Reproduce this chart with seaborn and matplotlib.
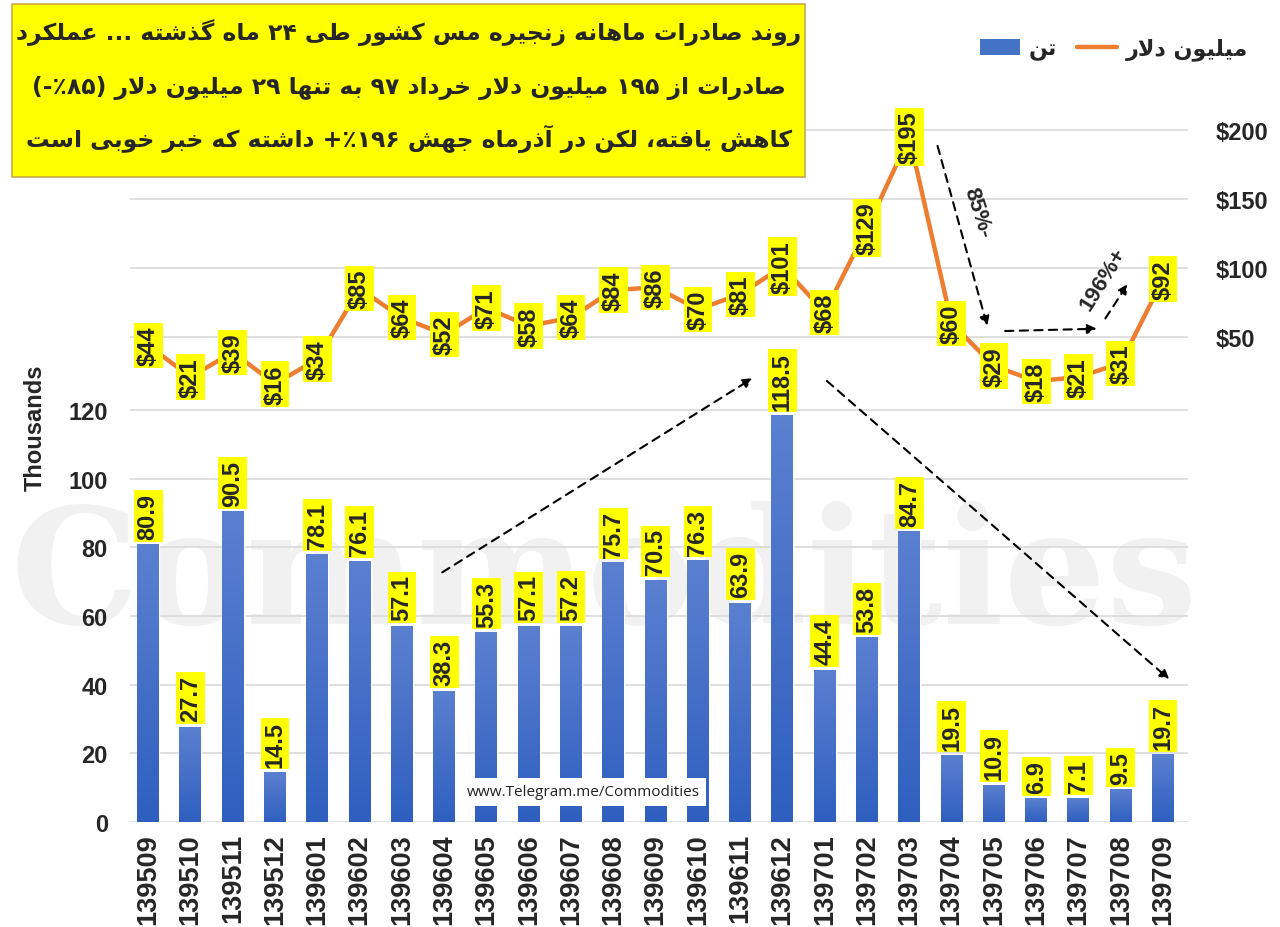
import re
import numpy as np
import matplotlib
matplotlib.use('Agg')
import matplotlib.pyplot as plt
import seaborn as sns
from matplotlib.colors import LinearSegmentedColormap
from matplotlib.patches import Rectangle
from matplotlib.lines import Line2D

# data
months = ['139509', '139510', '139511', '139512', '139601', '139602', '139603',
          '139604', '139605', '139606', '139607', '139608', '139609', '139610',
          '139611', '139612', '139701', '139702', '139703', '139704', '139705',
          '139706', '139707', '139708', '139709']
tons_k = [80.9, 27.7, 90.5, 14.5, 78.1, 76.1, 57.1, 38.3, 55.3, 57.1, 57.2, 75.7,
          70.5, 76.3, 63.9, 118.5, 44.4, 53.8, 84.7, 19.5, 10.9, 6.9, 7.1, 9.5, 19.7]
usd_m = [44, 21, 39, 16, 34, 85, 64, 52, 71, 58, 64, 84, 86, 70, 81, 101, 68, 129,
         195, 60, 29, 18, 21, 31, 92]
left_ticks = [0, 20, 40, 60, 80, 100, 120]
right_ticks = [50, 100, 150, 200]

title_lines = ['روند صادرات ماهانه زنجیره مس کشور طی ۲۴ ماه گذشته ... عملکرد',
               'صادرات از ۱۹۵ میلیون دلار خرداد ۹۷ به تنها ۲۹ میلیون دلار (۸۵٪-)',
               'کاهش یافته، لکن در آذرماه جهش ۱۹۶٪+ داشته که خبر خوبی است']
legend_labels = ['تن', 'میلیون دلار']

# --- minimal persian shaping (no reshaper available) ---
FORMS = {
    'ا': ('\uFE8D', '\uFE8E', None, None), 'آ': ('\uFE81', '\uFE82', None, None),
    'ب': ('\uFE8F', '\uFE90', '\uFE91', '\uFE92'), 'ت': ('\uFE95', '\uFE96', '\uFE97', '\uFE98'),
    'ج': ('\uFE9D', '\uFE9E', '\uFE9F', '\uFEA0'), 'خ': ('\uFEA5', '\uFEA6', '\uFEA7', '\uFEA8'),
    'د': ('\uFEA9', '\uFEAA', None, None), 'ذ': ('\uFEAB', '\uFEAC', None, None),
    'ر': ('\uFEAD', '\uFEAE', None, None), 'ز': ('\uFEAF', '\uFEB0', None, None),
    'س': ('\uFEB1', '\uFEB2', '\uFEB3', '\uFEB4'), 'ش': ('\uFEB5', '\uFEB6', '\uFEB7', '\uFEB8'),
    'ص': ('\uFEB9', '\uFEBA', '\uFEBB', '\uFEBC'), 'ط': ('\uFEC1', '\uFEC2', '\uFEC3', '\uFEC4'),
    'ع': ('\uFEC9', '\uFECA', '\uFECB', '\uFECC'), 'ف': ('\uFED1', '\uFED2', '\uFED3', '\uFED4'),
    'ل': ('\uFEDD', '\uFEDE', '\uFEDF', '\uFEE0'), 'م': ('\uFEE1', '\uFEE2', '\uFEE3', '\uFEE4'),
    'ن': ('\uFEE5', '\uFEE6', '\uFEE7', '\uFEE8'), 'ه': ('\uFEE9', '\uFEEA', '\uFEEB', '\uFEEC'),
    'و': ('\uFEED', '\uFEEE', None, None),
    'ک': ('\uFB8E', '\uFB8F', '\uFB90', '\uFB91'), 'گ': ('\uFB92', '\uFB93', '\uFB94', '\uFB95'),
    'ی': ('\uFBFC', '\uFBFD', '\uFBFE', '\uFBFF'),
}
LAMALEF = {'ا': ('\uFEFB', '\uFEFC'), 'آ': ('\uFEF5', '\uFEF6')}


def fa(text):
    text = text.replace('ي', 'ی').replace('ك', 'ک')
    ch = list(text)
    n = len(ch)
    dual = lambda c: c in FORMS and FORMS[c][2] is not None
    out = []
    i = 0
    while i < n:
        c = ch[i]
        if c not in FORMS:
            out.append(c)
            i += 1
            continue
        jp = i > 0 and dual(ch[i - 1])
        if c == 'ل' and i + 1 < n and ch[i + 1] in LAMALEF:
            out.append(LAMALEF[ch[i + 1]][1 if jp else 0])
            i += 2
            continue
        jn = dual(c) and i + 1 < n and ch[i + 1] in FORMS
        f = FORMS[c]
        out.append(f[3] if jp and jn else f[1] if jp else f[2] if jn else f[0])
        i += 1
    s = ''.join(out)[::-1]
    s = re.sub(r'[0-9۰-۹]+', lambda m: m.group(0)[::-1], s)
    return s.translate(str.maketrans('()', ')('))


sns.set_theme(style='white')
plt.rcParams['font.family'] = ['Liberation Sans', 'DejaVu Sans']
plt.rcParams['font.weight'] = 'bold'

W, H = 1280, 928
fig = plt.figure(figsize=(12.8, 9.28), dpi=100, facecolor='white')
ax = fig.add_axes([130 / W, 1 - 823 / H, 1058 / W, 723 / H])
ax.set_facecolor('none')
ax2 = ax.twinx()

# faint watermark
fig.text(0.472, 0.375, 'Commodities', fontsize=116, family='DejaVu Serif',
         color='#f1f1f1', ha='center', va='center', zorder=-1)

sns.barplot(x=months, y=tons_k, ax=ax, color='#4472c4', width=0.52,
            saturation=1, zorder=2)
sns.lineplot(x=np.arange(len(months)), y=usd_m, ax=ax2, color='#ed7d31',
             lw=3.2, zorder=3)

# gradient fill on bars
cmap = LinearSegmentedColormap.from_list('bar', ['#2f5fbf', '#5b80d0'])
grad = np.linspace(0, 1, 128).reshape(-1, 1)
for p in list(ax.patches):
    x0, w, h = p.get_x(), p.get_width(), p.get_height()
    im = ax.imshow(grad, extent=[x0, x0 + w, 0, h], origin='lower', cmap=cmap,
                   aspect='auto', zorder=2.1)
    im.set_clip_path(p)

ax.set_xlim(-0.43, 24.59)
ax2.set_xlim(-0.43, 24.59)
ax.set_ylim(0, 723 / 3.433)
ax2.set_ylim(-416 / 1.38, 307 / 1.38)

ax.set_yticks(left_ticks)
ax.set_yticklabels([str(t) for t in left_ticks])
ax2.set_yticks(right_ticks)
ax2.set_yticklabels([f'${t}' for t in right_ticks])
ax.grid(axis='y', color='#d9d9d9', lw=1.2)
ax2.grid(axis='y', color='#d9d9d9', lw=1.2)
ax.set_axisbelow(True)
for a in (ax, ax2):
    for s in a.spines.values():
        s.set_visible(False)
ax.tick_params(axis='y', length=0, pad=16, labelsize=17)
ax2.tick_params(axis='y', length=0, pad=20, labelsize=17)
ax.tick_params(axis='x', length=0, pad=8, labelsize=19.5, rotation=90)
ax.set_xlabel('')
ax.set_ylabel('')
ax2.set_ylabel('')

# value labels
for i, v in enumerate(tons_k):
    ax.annotate(f'{v}', (i, v), xytext=(0, 4), textcoords='offset points',
                rotation=90, ha='center', va='bottom', fontsize=17,
                fontweight='bold', zorder=5,
                bbox=dict(boxstyle='square,pad=0.12', fc='#ffff00', ec='none'))
for i, v in enumerate(usd_m):
    ax2.text(i, v, f'${v}', rotation=90, ha='center', va='center', fontsize=17,
             fontweight='bold', zorder=6,
             bbox=dict(boxstyle='square,pad=0.12', fc='#ffff00', ec='none'))

# dashed arrows and notes
arw = dict(arrowstyle='-|>', linestyle=(0, (4, 3)), color='black', lw=1.5,
           mutation_scale=14)
for start, end in [((6.9, 72.3), (14.35, 129.7)), ((16.0, 129.0), (24.2, 41.0)),
                   ((18.65, 197.7), (19.86, 143.7)), ((20.2, 143.0), (22.5, 143.7)),
                   ((22.6, 146.0), (23.2, 157.4))]:
    ax2.annotate('', xy=end, xytext=start, xycoords=ax.transData,
                 textcoords=ax.transData, arrowprops=arw, zorder=7)
ax2.text(19.62, 177.7, '85%-', transform=ax.transData, rotation=-72,
         ha='center', va='center', fontsize=16, fontweight='bold')
ax2.text(22.58, 158.2, '196%+', transform=ax.transData, rotation=58,
         ha='center', va='center', fontsize=16, fontweight='bold')

fig.text(35 / W, 1 - 428 / H, 'Thousands', rotation=90, ha='center',
         va='center', fontsize=17, fontweight='bold')

# title box
fig.patches.append(Rectangle((12 / W, 1 - 178 / H), 793 / W, 173 / H,
                             transform=fig.transFigure, fc='#ffff00',
                             ec='#c9a94a', lw=1.2, zorder=1))
for k, (line, yy) in enumerate(zip(title_lines, [33, 88, 139])):
    fig.text(409 / W, 1 - yy / H, fa(line), ha='center', va='center',
             fontsize=16.9, fontweight='bold', family=['DejaVu Sans'], zorder=2)

# legend
handles = [Rectangle((0, 0), 1, 1, fc='#4472c4', ec='none'),
           Line2D([0], [0], color='#ed7d31', lw=3.2)]
leg = fig.legend(handles, [fa(t) for t in legend_labels], ncol=2,
                 loc='center right', bbox_to_anchor=(1248 / W, 1 - 50 / H),
                 frameon=False, handlelength=1.8, handletextpad=0.4,
                 columnspacing=0.9, borderaxespad=0, borderpad=0,
                 prop=dict(family='DejaVu Sans', weight='bold', size=16))

fig.text(583 / W, 1 - 793 / H, 'www.Telegram.me/Commodities', ha='center',
         va='center', fontsize=11, family='Open Sans', fontweight='normal',
         color='#222222', zorder=8,
         bbox=dict(boxstyle='square,pad=0.45', fc='white', ec='none'))

fig.savefig('out.png', dpi=100, facecolor='white')
